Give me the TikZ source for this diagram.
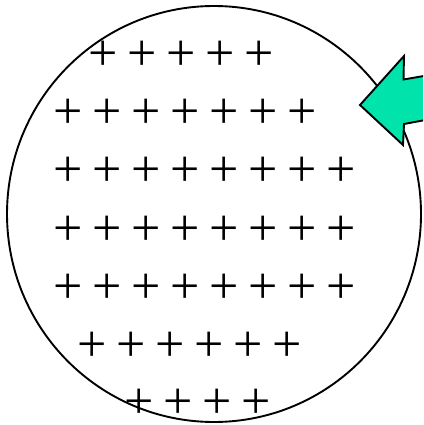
\documentclass[tikz,border=0pt]{standalone}
\usepackage{fontspec}
\setmainfont{Liberation Serif}
\definecolor{arrowfill}{RGB}{0,227,170}
\begin{document}
\begin{tikzpicture}[x=1pt,y=-1pt,
  plus/.style={inner sep=0pt,outer sep=0pt,font=\fontsize{52}{52}\selectfont},
  outline/.style={draw=black,line width=1.9pt}]
\useasboundingbox (0,0) rectangle (423,425);
\draw[outline] (214,214) ellipse [x radius=207, y radius=208];
% rows of plus signs: start x, y, count
\foreach \sx/\yy/\n [count=\r] in {103/52/5, 68/110/7, 68/168/8, 68/227/8, 68/285/8, 92/343/6, 139/400/4}{
  \foreach \k in {1,...,\n}{
    \node[plus] (p\r-\k) at ({\sx+39*(\k-1)},{\yy+3.5}) {+};
  }
}
\begin{scope}
\clip (0,0) rectangle (423,425);
\draw[outline,fill=arrowfill,line join=miter]
  (360,105) -- (404,56) -- (403.5,79.5) -- (440,73.2) -- (440,117.3) -- (404,124) -- (403,145) -- cycle;
\end{scope}
\end{tikzpicture}
\end{document}
